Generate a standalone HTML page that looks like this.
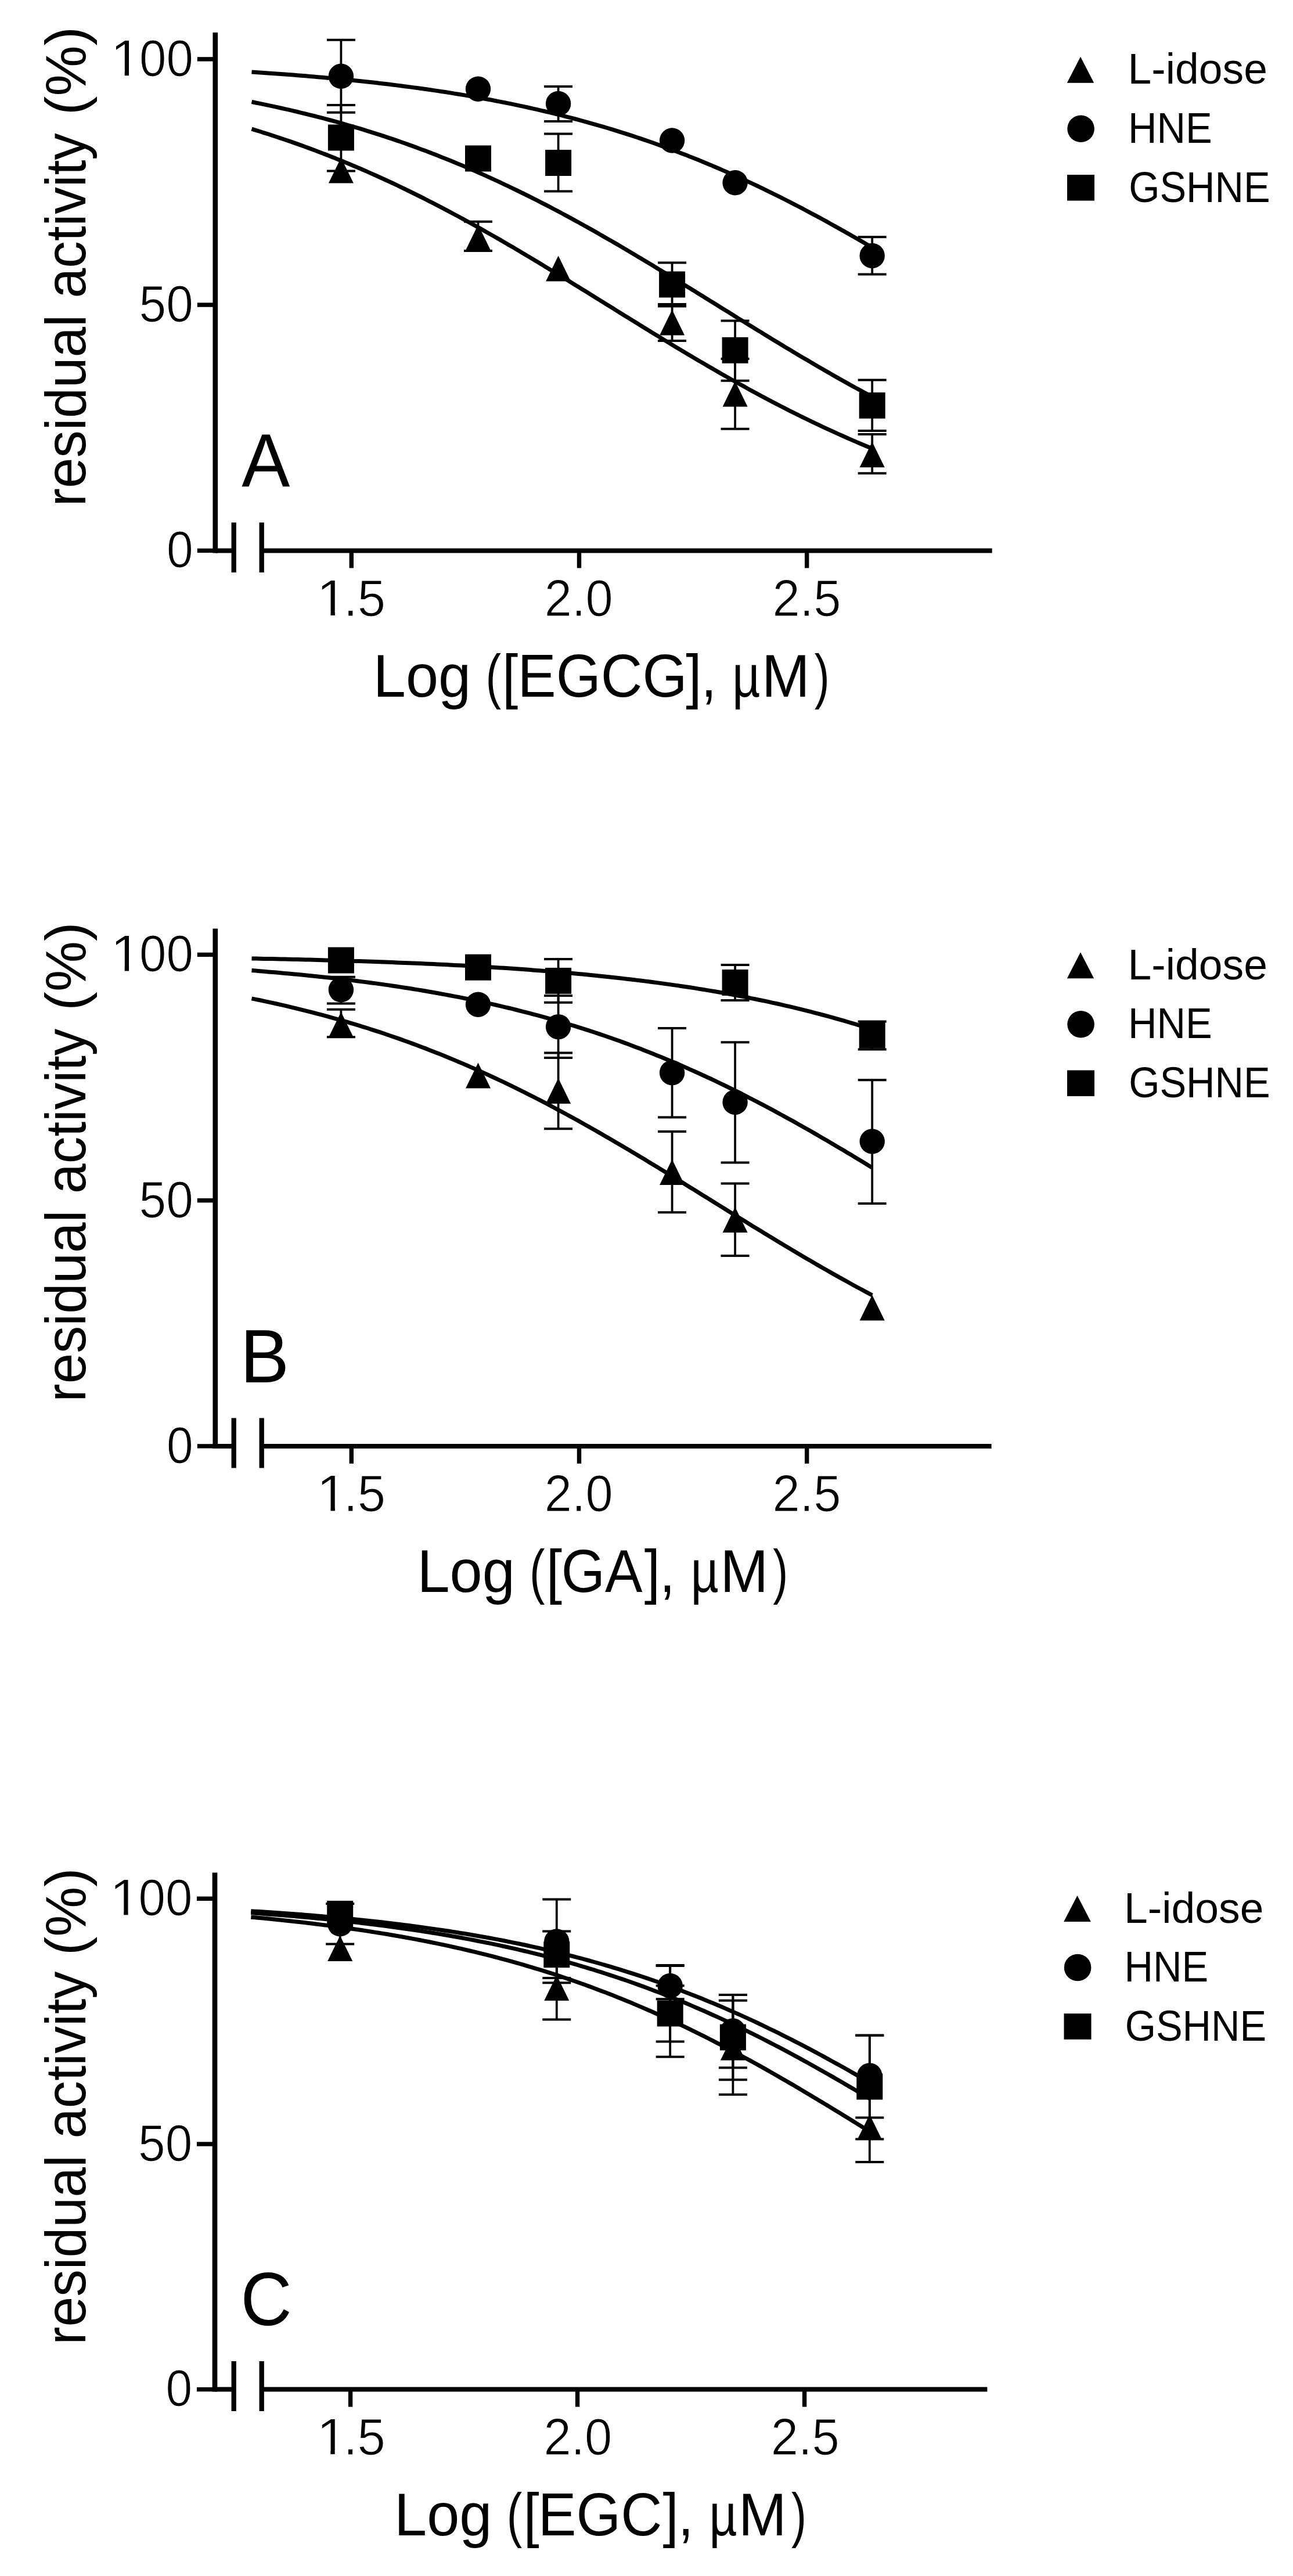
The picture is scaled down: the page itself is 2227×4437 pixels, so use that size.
<!DOCTYPE html>
<html lang="en">
<head>
<meta charset="utf-8">
<title>Residual activity vs inhibitor concentration</title>
<style>
html,body{margin:0;padding:0;background:#fff;}
body{width:2227px;height:4437px;overflow:hidden;}
svg{display:block;}
svg text{font-family:'Liberation Sans', Arial, Helvetica, sans-serif;fill:#000;font-kerning:none;}
.ax line,.eb line{stroke:#000;fill:none;}
.cv polyline{stroke:#000;stroke-width:7.0;fill:none;stroke-linejoin:round;}
.tl text{stroke:#fff;stroke-width:1.1px;}
.sy *,.lg circle,.lg rect,.lg polygon{fill:#000;}
</style>
</head>
<body>
<svg width="2227" height="4437" viewBox="0 0 2227 4437">
<rect width="2227" height="4437" fill="#fff"/>
<defs><clipPath id="one" clipPathUnits="userSpaceOnUse"><rect x="-5" y="-95" width="300" height="87.4"/><rect x="24.4" y="-8.2" width="7.4" height="7.7"/><rect x="48.9" y="-8.2" width="300" height="36.6"/></clipPath></defs>
<g>
<g class="ax">
<line x1="370.8" y1="56" x2="370.8" y2="952.4" stroke-width="8.7"/>
<line x1="339.8" y1="101.9" x2="370.8" y2="101.9" stroke-width="7.4"/>
<line x1="339.8" y1="525.1" x2="370.8" y2="525.1" stroke-width="7.4"/>
<line x1="339.8" y1="948.4" x2="370.8" y2="948.4" stroke-width="7.4"/>
<line x1="370.8" y1="948.4" x2="402.7" y2="948.4" stroke-width="8.0"/>
<line x1="450.7" y1="948.4" x2="1708.7" y2="948.4" stroke-width="8.0"/>
<line x1="402.7" y1="899.9" x2="402.7" y2="985.9" stroke-width="8.3"/>
<line x1="450.7" y1="899.9" x2="450.7" y2="985.9" stroke-width="8.3"/>
<line x1="605.3" y1="948.4" x2="605.3" y2="978.4" stroke-width="7.4"/>
<line x1="997.5" y1="948.4" x2="997.5" y2="978.4" stroke-width="7.4"/>
<line x1="1389.7" y1="948.4" x2="1389.7" y2="978.4" stroke-width="7.4"/>
</g>
<g class="tl">
<text transform="translate(190.3 130.7)" font-size="89" clip-path="url(#one)"><tspan x="0" textLength="53" lengthAdjust="spacingAndGlyphs">1</tspan><tspan x="49.7" textLength="92.8" lengthAdjust="spacingAndGlyphs">00</tspan></text>
<text y="553.9" font-size="89"><tspan x="239.6" textLength="93.2" lengthAdjust="spacingAndGlyphs">50</tspan></text>
<text y="977.2" font-size="89"><tspan x="287.1" textLength="45.7" lengthAdjust="spacingAndGlyphs">0</tspan></text>
<text transform="translate(545.1 1060.6)" font-size="89" clip-path="url(#one)"><tspan x="0" textLength="53" lengthAdjust="spacingAndGlyphs">1</tspan><tspan x="46.6" textLength="72.4" lengthAdjust="spacingAndGlyphs">.5</tspan></text>
<text y="1060.6" font-size="89"><tspan x="937.8" textLength="117.9" lengthAdjust="spacingAndGlyphs">2.0</tspan></text>
<text y="1060.6" font-size="89"><tspan x="1330.4" textLength="118" lengthAdjust="spacingAndGlyphs">2.5</tspan></text>
</g>
<text y="1199.6" font-size="103"><tspan x="642.8" textLength="168.4" lengthAdjust="spacingAndGlyphs">Log</tspan> <tspan x="836.4" textLength="26.5" lengthAdjust="spacingAndGlyphs">(</tspan><tspan x="865.1" textLength="27.3" lengthAdjust="spacingAndGlyphs">[</tspan><tspan x="891.5" textLength="292.1" lengthAdjust="spacingAndGlyphs">EGCG</tspan><tspan x="1181.2" textLength="27.3" lengthAdjust="spacingAndGlyphs">]</tspan><tspan x="1207.8" textLength="26.3" lengthAdjust="spacingAndGlyphs">,</tspan> <tspan x="1261.3" textLength="48.1" lengthAdjust="spacingAndGlyphs">µ</tspan><tspan x="1311.9" textLength="82.7" lengthAdjust="spacingAndGlyphs">M</tspan><tspan x="1402.8" textLength="26" lengthAdjust="spacingAndGlyphs">)</tspan></text>
<text transform="translate(147.4 0) rotate(-90)" font-size="98"><tspan x="-872.2" textLength="330.1" lengthAdjust="spacingAndGlyphs">residual</tspan> <tspan x="-513.6" textLength="284.4" lengthAdjust="spacingAndGlyphs">activity</tspan> <tspan x="-198.2" textLength="152.2" lengthAdjust="spacingAndGlyphs">(%)</tspan></text>
<text y="838" font-size="129"><tspan x="416.3" textLength="83.1" lengthAdjust="spacingAndGlyphs">A</tspan></text>
<g class="lg">
<polygon points="1861,97.8 1884.2,142.8 1837.8,142.8"/>
<circle cx="1861.6" cy="221.8" r="23.3"/>
<rect x="1838" y="301" width="47" height="44.6"/>
<text y="144.4" font-size="75"><tspan x="1942.6" textLength="240.3" lengthAdjust="spacingAndGlyphs">L-idose</tspan></text>
<text y="245.9" font-size="75"><tspan x="1943" textLength="144.7" lengthAdjust="spacingAndGlyphs">HNE</tspan></text>
<text y="347.5" font-size="75"><tspan x="1944.2" textLength="243.5" lengthAdjust="spacingAndGlyphs">GSHNE</tspan></text>
</g>
<g class="cv">
<polyline points="433.5,124.1 440.6,124.6 447.8,125.1 454.9,125.5 462,126 469.1,126.5 476.3,127 483.4,127.5 490.5,128.1 497.6,128.6 504.8,129.1 511.9,129.7 519,130.3 526.1,130.8 533.3,131.4 540.4,132 547.5,132.7 554.6,133.3 561.8,133.9 568.9,134.6 576,135.2 583.1,135.9 590.3,136.6 597.4,137.3 604.5,138 611.6,138.7 618.8,139.5 625.9,140.2 633,141 640.1,141.8 647.3,142.6 654.4,143.4 661.5,144.3 668.6,145.1 675.8,146 682.9,146.9 690,147.8 697.1,148.7 704.3,149.6 711.4,150.6 718.5,151.5 725.6,152.5 732.8,153.5 739.9,154.5 747,155.6 754.1,156.6 761.3,157.7 768.4,158.8 775.5,159.9 782.6,161.1 789.8,162.2 796.9,163.4 804,164.6 811.1,165.9 818.3,167.1 825.4,168.4 832.5,169.7 839.6,171 846.8,172.3 853.9,173.7 861,175.1 868.1,176.5 875.2,177.9 882.4,179.4 889.5,180.9 896.6,182.4 903.7,183.9 910.9,185.5 918,187.1 925.1,188.7 932.2,190.3 939.4,192 946.5,193.7 953.6,195.4 960.7,197.2 967.9,198.9 975,200.8 982.1,202.6 989.2,204.5 996.4,206.4 1003.5,208.3 1010.6,210.3 1017.7,212.3 1024.9,214.3 1032,216.3 1039.1,218.4 1046.2,220.5 1053.4,222.7 1060.5,224.9 1067.6,227.1 1074.7,229.3 1081.9,231.6 1089,233.9 1096.1,236.3 1103.2,238.6 1110.4,241.1 1117.5,243.5 1124.6,246 1131.7,248.5 1138.9,251.1 1146,253.7 1153.1,256.3 1160.2,258.9 1167.4,261.6 1174.5,264.4 1181.6,267.1 1188.7,269.9 1195.9,272.7 1203,275.6 1210.1,278.5 1217.2,281.5 1224.4,284.4 1231.5,287.5 1238.6,290.5 1245.7,293.6 1252.9,296.7 1260,299.9 1267.1,303 1274.2,306.3 1281.4,309.5 1288.5,312.8 1295.6,316.2 1302.7,319.5 1309.9,322.9 1317,326.3 1324.1,329.8 1331.2,333.3 1338.4,336.8 1345.5,340.4 1352.6,344 1359.7,347.6 1366.9,351.3 1374,355 1381.1,358.7 1388.2,362.5 1395.4,366.3 1402.5,370.1 1409.6,373.9 1416.7,377.8 1423.9,381.7 1431,385.7 1438.1,389.6 1445.2,393.6 1452.4,397.6 1459.5,401.6 1466.6,405.7 1473.7,409.8 1480.9,413.9 1488,418 1495.1,422.2 1502.2,426.4"/>
<polyline points="433.5,175.5 440.6,177 447.8,178.4 454.9,179.9 462,181.4 469.1,182.9 476.3,184.4 483.4,186 490.5,187.6 497.6,189.2 504.8,190.9 511.9,192.5 519,194.3 526.1,196 533.3,197.8 540.4,199.5 547.5,201.4 554.6,203.2 561.8,205.1 568.9,207 576,208.9 583.1,210.9 590.3,212.9 597.4,215 604.5,217 611.6,219.1 618.8,221.2 625.9,223.4 633,225.6 640.1,227.8 647.3,230.1 654.4,232.4 661.5,234.7 668.6,237.1 675.8,239.4 682.9,241.9 690,244.3 697.1,246.8 704.3,249.4 711.4,251.9 718.5,254.5 725.6,257.2 732.8,259.8 739.9,262.5 747,265.3 754.1,268 761.3,270.9 768.4,273.7 775.5,276.6 782.6,279.5 789.8,282.4 796.9,285.4 804,288.5 811.1,291.5 818.3,294.6 825.4,297.7 832.5,300.9 839.6,304.1 846.8,307.4 853.9,310.6 861,313.9 868.1,317.3 875.2,320.6 882.4,324.1 889.5,327.5 896.6,331 903.7,334.5 910.9,338 918,341.6 925.1,345.2 932.2,348.9 939.4,352.5 946.5,356.2 953.6,360 960.7,363.7 967.9,367.5 975,371.4 982.1,375.2 989.2,379.1 996.4,383 1003.5,387 1010.6,390.9 1017.7,394.9 1024.9,398.9 1032,403 1039.1,407.1 1046.2,411.2 1053.4,415.3 1060.5,419.4 1067.6,423.6 1074.7,427.7 1081.9,432 1089,436.2 1096.1,440.4 1103.2,444.7 1110.4,448.9 1117.5,453.2 1124.6,457.5 1131.7,461.9 1138.9,466.2 1146,470.5 1153.1,474.9 1160.2,479.3 1167.4,483.6 1174.5,488 1181.6,492.4 1188.7,496.8 1195.9,501.2 1203,505.7 1210.1,510.1 1217.2,514.5 1224.4,518.9 1231.5,523.3 1238.6,527.8 1245.7,532.2 1252.9,536.6 1260,541 1267.1,545.5 1274.2,549.9 1281.4,554.3 1288.5,558.7 1295.6,563.1 1302.7,567.5 1309.9,571.8 1317,576.2 1324.1,580.6 1331.2,584.9 1338.4,589.2 1345.5,593.6 1352.6,597.9 1359.7,602.1 1366.9,606.4 1374,610.7 1381.1,614.9 1388.2,619.1 1395.4,623.3 1402.5,627.5 1409.6,631.7 1416.7,635.8 1423.9,639.9 1431,644 1438.1,648.1 1445.2,652.1 1452.4,656.1 1459.5,660.1 1466.6,664.1 1473.7,668 1480.9,671.9 1488,675.8 1495.1,679.6 1502.2,683.5"/>
<polyline points="433.5,222.2 440.6,224.3 447.8,226.5 454.9,228.8 462,231 469.1,233.3 476.3,235.7 483.4,238.1 490.5,240.5 497.6,242.9 504.8,245.4 511.9,247.9 519,250.4 526.1,253 533.3,255.6 540.4,258.3 547.5,261 554.6,263.7 561.8,266.4 568.9,269.2 576,272 583.1,274.9 590.3,277.8 597.4,280.7 604.5,283.7 611.6,286.7 618.8,289.8 625.9,292.8 633,295.9 640.1,299.1 647.3,302.3 654.4,305.5 661.5,308.7 668.6,312 675.8,315.3 682.9,318.7 690,322.1 697.1,325.5 704.3,329 711.4,332.5 718.5,336 725.6,339.5 732.8,343.1 739.9,346.8 747,350.4 754.1,354.1 761.3,357.8 768.4,361.6 775.5,365.3 782.6,369.2 789.8,373 796.9,376.9 804,380.8 811.1,384.7 818.3,388.6 825.4,392.6 832.5,396.6 839.6,400.7 846.8,404.7 853.9,408.8 861,412.9 868.1,417 875.2,421.2 882.4,425.3 889.5,429.5 896.6,433.7 903.7,438 910.9,442.2 918,446.5 925.1,450.8 932.2,455.1 939.4,459.4 946.5,463.7 953.6,468 960.7,472.4 967.9,476.7 975,481.1 982.1,485.5 989.2,489.9 996.4,494.3 1003.5,498.7 1010.6,503.1 1017.7,507.5 1024.9,511.9 1032,516.4 1039.1,520.8 1046.2,525.2 1053.4,529.6 1060.5,534.1 1067.6,538.5 1074.7,542.9 1081.9,547.3 1089,551.7 1096.1,556.1 1103.2,560.5 1110.4,564.9 1117.5,569.3 1124.6,573.7 1131.7,578.1 1138.9,582.4 1146,586.7 1153.1,591.1 1160.2,595.4 1167.4,599.7 1174.5,604 1181.6,608.2 1188.7,612.5 1195.9,616.7 1203,620.9 1210.1,625.1 1217.2,629.3 1224.4,633.4 1231.5,637.5 1238.6,641.6 1245.7,645.7 1252.9,649.8 1260,653.8 1267.1,657.8 1274.2,661.8 1281.4,665.7 1288.5,669.7 1295.6,673.6 1302.7,677.4 1309.9,681.3 1317,685.1 1324.1,688.8 1331.2,692.6 1338.4,696.3 1345.5,700 1352.6,703.7 1359.7,707.3 1366.9,710.9 1374,714.4 1381.1,718 1388.2,721.4 1395.4,724.9 1402.5,728.3 1409.6,731.7 1416.7,735.1 1423.9,738.4 1431,741.7 1438.1,744.9 1445.2,748.1 1452.4,751.3 1459.5,754.5 1466.6,757.6 1473.7,760.6 1480.9,763.7 1488,766.7 1495.1,769.7 1502.2,772.6"/>
</g>
<g class="eb">
<line x1="823.5" y1="381.8" x2="823.5" y2="432" stroke-width="3.8"/>
<line x1="799" y1="381.8" x2="848" y2="381.8" stroke-width="4.0"/>
<line x1="799" y1="432" x2="848" y2="432" stroke-width="4.0"/>
<line x1="1157.6" y1="524" x2="1157.6" y2="587" stroke-width="3.8"/>
<line x1="1133.1" y1="524" x2="1182.1" y2="524" stroke-width="4.0"/>
<line x1="1133.1" y1="587" x2="1182.1" y2="587" stroke-width="4.0"/>
<line x1="1266.1" y1="618" x2="1266.1" y2="738.8" stroke-width="3.8"/>
<line x1="1241.6" y1="618" x2="1290.6" y2="618" stroke-width="4.0"/>
<line x1="1241.6" y1="738.8" x2="1290.6" y2="738.8" stroke-width="4.0"/>
<line x1="1502.2" y1="748" x2="1502.2" y2="815.2" stroke-width="3.8"/>
<line x1="1477.7" y1="748" x2="1526.7" y2="748" stroke-width="4.0"/>
<line x1="1477.7" y1="815.2" x2="1526.7" y2="815.2" stroke-width="4.0"/>
<line x1="587.4" y1="68.8" x2="587.4" y2="193.8" stroke-width="3.8"/>
<line x1="562.9" y1="68.8" x2="611.9" y2="68.8" stroke-width="4.0"/>
<line x1="562.9" y1="193.8" x2="611.9" y2="193.8" stroke-width="4.0"/>
<line x1="961.6" y1="148.9" x2="961.6" y2="208.9" stroke-width="3.8"/>
<line x1="937.1" y1="148.9" x2="986.1" y2="148.9" stroke-width="4.0"/>
<line x1="937.1" y1="208.9" x2="986.1" y2="208.9" stroke-width="4.0"/>
<line x1="1502.2" y1="408.3" x2="1502.2" y2="472.6" stroke-width="3.8"/>
<line x1="1477.7" y1="408.3" x2="1526.7" y2="408.3" stroke-width="4.0"/>
<line x1="1477.7" y1="472.6" x2="1526.7" y2="472.6" stroke-width="4.0"/>
<line x1="587.4" y1="181" x2="587.4" y2="294.5" stroke-width="3.8"/>
<line x1="562.9" y1="181" x2="611.9" y2="181" stroke-width="4.0"/>
<line x1="562.9" y1="294.5" x2="611.9" y2="294.5" stroke-width="4.0"/>
<line x1="961.6" y1="230.5" x2="961.6" y2="329.5" stroke-width="3.8"/>
<line x1="937.1" y1="230.5" x2="986.1" y2="230.5" stroke-width="4.0"/>
<line x1="937.1" y1="329.5" x2="986.1" y2="329.5" stroke-width="4.0"/>
<line x1="1157.6" y1="452.5" x2="1157.6" y2="527.5" stroke-width="3.8"/>
<line x1="1133.1" y1="452.5" x2="1182.1" y2="452.5" stroke-width="4.0"/>
<line x1="1133.1" y1="527.5" x2="1182.1" y2="527.5" stroke-width="4.0"/>
<line x1="1266.1" y1="552.4" x2="1266.1" y2="655.7" stroke-width="3.8"/>
<line x1="1241.6" y1="552.4" x2="1290.6" y2="552.4" stroke-width="4.0"/>
<line x1="1241.6" y1="655.7" x2="1290.6" y2="655.7" stroke-width="4.0"/>
<line x1="1502.2" y1="654.4" x2="1502.2" y2="742" stroke-width="3.8"/>
<line x1="1477.7" y1="654.4" x2="1526.7" y2="654.4" stroke-width="4.0"/>
<line x1="1477.7" y1="742" x2="1526.7" y2="742" stroke-width="4.0"/>
</g>
<g class="sy">
<polygon points="587.4,271.5 608.9,315.5 565.9,315.5"/>
<polygon points="823.5,387 845,431 802,431"/>
<polygon points="961.6,440.6 983.1,484.6 940.1,484.6"/>
<polygon points="1157.6,533.5 1179.1,577.5 1136.1,577.5"/>
<polygon points="1266.1,656.5 1287.6,700.5 1244.6,700.5"/>
<polygon points="1502.2,761 1523.7,805 1480.7,805"/>
<circle cx="587.4" cy="131.3" r="21.7"/>
<circle cx="823.5" cy="153.2" r="21.7"/>
<circle cx="961.6" cy="178.5" r="21.7"/>
<circle cx="1157.6" cy="242" r="21.7"/>
<circle cx="1266.1" cy="314.7" r="21.7"/>
<circle cx="1502.2" cy="440.5" r="21.7"/>
<rect x="564.9" y="214.5" width="45" height="45"/>
<rect x="801" y="250.5" width="45" height="45"/>
<rect x="939.1" y="258" width="45" height="45"/>
<rect x="1135.1" y="467.5" width="45" height="45"/>
<rect x="1243.6" y="580.8" width="45" height="45"/>
<rect x="1479.7" y="675.9" width="45" height="45"/>
</g>
</g>
<g>
<g class="ax">
<line x1="370.8" y1="1599.5" x2="370.8" y2="2494.9" stroke-width="8.7"/>
<line x1="339.8" y1="1644.4" x2="370.8" y2="1644.4" stroke-width="7.4"/>
<line x1="339.8" y1="2067.7" x2="370.8" y2="2067.7" stroke-width="7.4"/>
<line x1="339.8" y1="2490.9" x2="370.8" y2="2490.9" stroke-width="7.4"/>
<line x1="370.8" y1="2490.9" x2="402.7" y2="2490.9" stroke-width="8.0"/>
<line x1="450.7" y1="2490.9" x2="1707.6" y2="2490.9" stroke-width="8.0"/>
<line x1="402.7" y1="2442.4" x2="402.7" y2="2528.4" stroke-width="8.3"/>
<line x1="450.7" y1="2442.4" x2="450.7" y2="2528.4" stroke-width="8.3"/>
<line x1="605.3" y1="2490.9" x2="605.3" y2="2520.9" stroke-width="7.4"/>
<line x1="997.5" y1="2490.9" x2="997.5" y2="2520.9" stroke-width="7.4"/>
<line x1="1389.7" y1="2490.9" x2="1389.7" y2="2520.9" stroke-width="7.4"/>
</g>
<g class="tl">
<text transform="translate(190.3 1673.2)" font-size="89" clip-path="url(#one)"><tspan x="0" textLength="53" lengthAdjust="spacingAndGlyphs">1</tspan><tspan x="49.7" textLength="92.8" lengthAdjust="spacingAndGlyphs">00</tspan></text>
<text y="2096.5" font-size="89"><tspan x="239.6" textLength="93.2" lengthAdjust="spacingAndGlyphs">50</tspan></text>
<text y="2519.7" font-size="89"><tspan x="287.1" textLength="45.7" lengthAdjust="spacingAndGlyphs">0</tspan></text>
<text transform="translate(545.1 2603.1)" font-size="89" clip-path="url(#one)"><tspan x="0" textLength="53" lengthAdjust="spacingAndGlyphs">1</tspan><tspan x="46.6" textLength="72.4" lengthAdjust="spacingAndGlyphs">.5</tspan></text>
<text y="2603.1" font-size="89"><tspan x="937.8" textLength="117.9" lengthAdjust="spacingAndGlyphs">2.0</tspan></text>
<text y="2603.1" font-size="89"><tspan x="1330.4" textLength="118" lengthAdjust="spacingAndGlyphs">2.5</tspan></text>
</g>
<text y="2742.1" font-size="103"><tspan x="718.4" textLength="168.4" lengthAdjust="spacingAndGlyphs">Log</tspan> <tspan x="912" textLength="26.5" lengthAdjust="spacingAndGlyphs">(</tspan><tspan x="940.7" textLength="27.3" lengthAdjust="spacingAndGlyphs">[</tspan><tspan x="966.8" textLength="139.6" lengthAdjust="spacingAndGlyphs">GA</tspan><tspan x="1109.7" textLength="27.3" lengthAdjust="spacingAndGlyphs">]</tspan><tspan x="1136.3" textLength="26.3" lengthAdjust="spacingAndGlyphs">,</tspan> <tspan x="1189.8" textLength="48.1" lengthAdjust="spacingAndGlyphs">µ</tspan><tspan x="1240.4" textLength="82.7" lengthAdjust="spacingAndGlyphs">M</tspan><tspan x="1331.3" textLength="26" lengthAdjust="spacingAndGlyphs">)</tspan></text>
<text transform="translate(147.4 0) rotate(-90)" font-size="98"><tspan x="-2414.7" textLength="330.1" lengthAdjust="spacingAndGlyphs">residual</tspan> <tspan x="-2056.1" textLength="284.4" lengthAdjust="spacingAndGlyphs">activity</tspan> <tspan x="-1740.7" textLength="152.2" lengthAdjust="spacingAndGlyphs">(%)</tspan></text>
<text y="2380.5" font-size="129"><tspan x="413.7" textLength="84.3" lengthAdjust="spacingAndGlyphs">B</tspan></text>
<g class="lg">
<polygon points="1861,1640.3 1884.2,1685.3 1837.8,1685.3"/>
<circle cx="1861.6" cy="1764.3" r="23.3"/>
<rect x="1838" y="1843.5" width="47" height="44.6"/>
<text y="1686.9" font-size="75"><tspan x="1942.6" textLength="240.3" lengthAdjust="spacingAndGlyphs">L-idose</tspan></text>
<text y="1788.4" font-size="75"><tspan x="1943" textLength="144.7" lengthAdjust="spacingAndGlyphs">HNE</tspan></text>
<text y="1890" font-size="75"><tspan x="1944.2" textLength="243.5" lengthAdjust="spacingAndGlyphs">GSHNE</tspan></text>
</g>
<g class="cv">
<polyline points="433.5,1650.9 440.6,1651.1 447.8,1651.2 454.9,1651.4 462,1651.5 469.1,1651.6 476.3,1651.8 483.4,1652 490.5,1652.1 497.6,1652.3 504.8,1652.4 511.9,1652.6 519,1652.8 526.1,1653 533.3,1653.1 540.4,1653.3 547.5,1653.5 554.6,1653.7 561.8,1653.9 568.9,1654.1 576,1654.3 583.1,1654.5 590.3,1654.7 597.4,1654.9 604.5,1655.1 611.6,1655.4 618.8,1655.6 625.9,1655.8 633,1656.1 640.1,1656.3 647.3,1656.6 654.4,1656.8 661.5,1657.1 668.6,1657.3 675.8,1657.6 682.9,1657.9 690,1658.2 697.1,1658.4 704.3,1658.7 711.4,1659 718.5,1659.3 725.6,1659.6 732.8,1660 739.9,1660.3 747,1660.6 754.1,1660.9 761.3,1661.3 768.4,1661.6 775.5,1662 782.6,1662.4 789.8,1662.7 796.9,1663.1 804,1663.5 811.1,1663.9 818.3,1664.3 825.4,1664.7 832.5,1665.1 839.6,1665.6 846.8,1666 853.9,1666.4 861,1666.9 868.1,1667.3 875.2,1667.8 882.4,1668.3 889.5,1668.8 896.6,1669.3 903.7,1669.8 910.9,1670.3 918,1670.9 925.1,1671.4 932.2,1671.9 939.4,1672.5 946.5,1673.1 953.6,1673.7 960.7,1674.3 967.9,1674.9 975,1675.5 982.1,1676.1 989.2,1676.8 996.4,1677.4 1003.5,1678.1 1010.6,1678.8 1017.7,1679.5 1024.9,1680.2 1032,1680.9 1039.1,1681.7 1046.2,1682.4 1053.4,1683.2 1060.5,1684 1067.6,1684.7 1074.7,1685.6 1081.9,1686.4 1089,1687.2 1096.1,1688.1 1103.2,1689 1110.4,1689.9 1117.5,1690.8 1124.6,1691.7 1131.7,1692.6 1138.9,1693.6 1146,1694.6 1153.1,1695.6 1160.2,1696.6 1167.4,1697.6 1174.5,1698.7 1181.6,1699.7 1188.7,1700.8 1195.9,1701.9 1203,1703.1 1210.1,1704.2 1217.2,1705.4 1224.4,1706.6 1231.5,1707.8 1238.6,1709 1245.7,1710.3 1252.9,1711.6 1260,1712.9 1267.1,1714.2 1274.2,1715.6 1281.4,1716.9 1288.5,1718.3 1295.6,1719.8 1302.7,1721.2 1309.9,1722.7 1317,1724.2 1324.1,1725.7 1331.2,1727.3 1338.4,1728.8 1345.5,1730.4 1352.6,1732.1 1359.7,1733.7 1366.9,1735.4 1374,1737.1 1381.1,1738.9 1388.2,1740.6 1395.4,1742.4 1402.5,1744.3 1409.6,1746.1 1416.7,1748 1423.9,1749.9 1431,1751.9 1438.1,1753.8 1445.2,1755.9 1452.4,1757.9 1459.5,1760 1466.6,1762.1 1473.7,1764.2 1480.9,1766.4 1488,1768.6 1495.1,1770.8 1502.2,1773.1"/>
<polyline points="433.5,1671.6 440.6,1672.1 447.8,1672.7 454.9,1673.3 462,1673.9 469.1,1674.5 476.3,1675.1 483.4,1675.7 490.5,1676.4 497.6,1677 504.8,1677.7 511.9,1678.3 519,1679 526.1,1679.7 533.3,1680.4 540.4,1681.2 547.5,1681.9 554.6,1682.7 561.8,1683.4 568.9,1684.2 576,1685 583.1,1685.9 590.3,1686.7 597.4,1687.5 604.5,1688.4 611.6,1689.3 618.8,1690.2 625.9,1691.1 633,1692 640.1,1693 647.3,1693.9 654.4,1694.9 661.5,1695.9 668.6,1696.9 675.8,1698 682.9,1699 690,1700.1 697.1,1701.2 704.3,1702.3 711.4,1703.5 718.5,1704.6 725.6,1705.8 732.8,1707 739.9,1708.2 747,1709.5 754.1,1710.8 761.3,1712.1 768.4,1713.4 775.5,1714.7 782.6,1716.1 789.8,1717.4 796.9,1718.9 804,1720.3 811.1,1721.7 818.3,1723.2 825.4,1724.7 832.5,1726.3 839.6,1727.8 846.8,1729.4 853.9,1731 861,1732.7 868.1,1734.3 875.2,1736 882.4,1737.7 889.5,1739.5 896.6,1741.3 903.7,1743.1 910.9,1744.9 918,1746.8 925.1,1748.7 932.2,1750.6 939.4,1752.6 946.5,1754.6 953.6,1756.6 960.7,1758.6 967.9,1760.7 975,1762.8 982.1,1765 989.2,1767.2 996.4,1769.4 1003.5,1771.6 1010.6,1773.9 1017.7,1776.2 1024.9,1778.5 1032,1780.9 1039.1,1783.3 1046.2,1785.8 1053.4,1788.3 1060.5,1790.8 1067.6,1793.3 1074.7,1795.9 1081.9,1798.5 1089,1801.2 1096.1,1803.9 1103.2,1806.6 1110.4,1809.4 1117.5,1812.2 1124.6,1815 1131.7,1817.9 1138.9,1820.8 1146,1823.7 1153.1,1826.7 1160.2,1829.7 1167.4,1832.7 1174.5,1835.8 1181.6,1838.9 1188.7,1842.1 1195.9,1845.3 1203,1848.5 1210.1,1851.7 1217.2,1855 1224.4,1858.3 1231.5,1861.7 1238.6,1865.1 1245.7,1868.5 1252.9,1872 1260,1875.5 1267.1,1879 1274.2,1882.6 1281.4,1886.2 1288.5,1889.8 1295.6,1893.5 1302.7,1897.2 1309.9,1900.9 1317,1904.6 1324.1,1908.4 1331.2,1912.2 1338.4,1916.1 1345.5,1920 1352.6,1923.9 1359.7,1927.8 1366.9,1931.7 1374,1935.7 1381.1,1939.7 1388.2,1943.8 1395.4,1947.8 1402.5,1951.9 1409.6,1956 1416.7,1960.2 1423.9,1964.3 1431,1968.5 1438.1,1972.7 1445.2,1976.9 1452.4,1981.1 1459.5,1985.4 1466.6,1989.6 1473.7,1993.9 1480.9,1998.2 1488,2002.5 1495.1,2006.9 1502.2,2011.2"/>
<polyline points="433.5,1719.9 440.6,1721.4 447.8,1722.8 454.9,1724.3 462,1725.9 469.1,1727.4 476.3,1729 483.4,1730.6 490.5,1732.2 497.6,1733.9 504.8,1735.6 511.9,1737.3 519,1739.1 526.1,1740.8 533.3,1742.6 540.4,1744.5 547.5,1746.3 554.6,1748.2 561.8,1750.1 568.9,1752.1 576,1754.1 583.1,1756.1 590.3,1758.1 597.4,1760.2 604.5,1762.3 611.6,1764.4 618.8,1766.6 625.9,1768.8 633,1771 640.1,1773.3 647.3,1775.6 654.4,1777.9 661.5,1780.3 668.6,1782.7 675.8,1785.2 682.9,1787.6 690,1790.1 697.1,1792.7 704.3,1795.3 711.4,1797.9 718.5,1800.5 725.6,1803.2 732.8,1805.9 739.9,1808.7 747,1811.4 754.1,1814.3 761.3,1817.1 768.4,1820 775.5,1822.9 782.6,1825.9 789.8,1828.9 796.9,1831.9 804,1835 811.1,1838.1 818.3,1841.3 825.4,1844.4 832.5,1847.6 839.6,1850.9 846.8,1854.2 853.9,1857.5 861,1860.8 868.1,1864.2 875.2,1867.7 882.4,1871.1 889.5,1874.6 896.6,1878.1 903.7,1881.7 910.9,1885.3 918,1888.9 925.1,1892.5 932.2,1896.2 939.4,1899.9 946.5,1903.7 953.6,1907.5 960.7,1911.3 967.9,1915.1 975,1919 982.1,1922.9 989.2,1926.8 996.4,1930.7 1003.5,1934.7 1010.6,1938.7 1017.7,1942.7 1024.9,1946.8 1032,1950.9 1039.1,1955 1046.2,1959.1 1053.4,1963.2 1060.5,1967.4 1067.6,1971.6 1074.7,1975.8 1081.9,1980 1089,1984.3 1096.1,1988.5 1103.2,1992.8 1110.4,1997.1 1117.5,2001.4 1124.6,2005.8 1131.7,2010.1 1138.9,2014.4 1146,2018.8 1153.1,2023.2 1160.2,2027.6 1167.4,2031.9 1174.5,2036.3 1181.6,2040.7 1188.7,2045.2 1195.9,2049.6 1203,2054 1210.1,2058.4 1217.2,2062.8 1224.4,2067.3 1231.5,2071.7 1238.6,2076.1 1245.7,2080.5 1252.9,2085 1260,2089.4 1267.1,2093.8 1274.2,2098.2 1281.4,2102.6 1288.5,2107 1295.6,2111.4 1302.7,2115.7 1309.9,2120.1 1317,2124.5 1324.1,2128.8 1331.2,2133.1 1338.4,2137.4 1345.5,2141.7 1352.6,2146 1359.7,2150.3 1366.9,2154.5 1374,2158.8 1381.1,2163 1388.2,2167.2 1395.4,2171.3 1402.5,2175.5 1409.6,2179.6 1416.7,2183.7 1423.9,2187.8 1431,2191.9 1438.1,2195.9 1445.2,2199.9 1452.4,2203.9 1459.5,2207.8 1466.6,2211.8 1473.7,2215.7 1480.9,2219.5 1488,2223.4 1495.1,2227.2 1502.2,2231"/>
</g>
<g class="eb">
<line x1="587.4" y1="1738.8" x2="587.4" y2="1786.3" stroke-width="3.8"/>
<line x1="562.9" y1="1738.8" x2="611.9" y2="1738.8" stroke-width="4.0"/>
<line x1="562.9" y1="1786.3" x2="611.9" y2="1786.3" stroke-width="4.0"/>
<line x1="961.6" y1="1813.5" x2="961.6" y2="1944.3" stroke-width="3.8"/>
<line x1="937.1" y1="1813.5" x2="986.1" y2="1813.5" stroke-width="4.0"/>
<line x1="937.1" y1="1944.3" x2="986.1" y2="1944.3" stroke-width="4.0"/>
<line x1="1157.6" y1="1949.1" x2="1157.6" y2="2088.3" stroke-width="3.8"/>
<line x1="1133.1" y1="1949.1" x2="1182.1" y2="1949.1" stroke-width="4.0"/>
<line x1="1133.1" y1="2088.3" x2="1182.1" y2="2088.3" stroke-width="4.0"/>
<line x1="1266.1" y1="2038.4" x2="1266.1" y2="2163" stroke-width="3.8"/>
<line x1="1241.6" y1="2038.4" x2="1290.6" y2="2038.4" stroke-width="4.0"/>
<line x1="1241.6" y1="2163" x2="1290.6" y2="2163" stroke-width="4.0"/>
<line x1="587.4" y1="1682.8" x2="587.4" y2="1728.6" stroke-width="3.8"/>
<line x1="562.9" y1="1682.8" x2="611.9" y2="1682.8" stroke-width="4.0"/>
<line x1="562.9" y1="1728.6" x2="611.9" y2="1728.6" stroke-width="4.0"/>
<line x1="961.6" y1="1715" x2="961.6" y2="1822.1" stroke-width="3.8"/>
<line x1="937.1" y1="1715" x2="986.1" y2="1715" stroke-width="4.0"/>
<line x1="937.1" y1="1822.1" x2="986.1" y2="1822.1" stroke-width="4.0"/>
<line x1="1157.6" y1="1770.9" x2="1157.6" y2="1924.6" stroke-width="3.8"/>
<line x1="1133.1" y1="1770.9" x2="1182.1" y2="1770.9" stroke-width="4.0"/>
<line x1="1133.1" y1="1924.6" x2="1182.1" y2="1924.6" stroke-width="4.0"/>
<line x1="1266.1" y1="1795.3" x2="1266.1" y2="2002.5" stroke-width="3.8"/>
<line x1="1241.6" y1="1795.3" x2="1290.6" y2="1795.3" stroke-width="4.0"/>
<line x1="1241.6" y1="2002.5" x2="1290.6" y2="2002.5" stroke-width="4.0"/>
<line x1="1502.2" y1="1860.2" x2="1502.2" y2="2072.9" stroke-width="3.8"/>
<line x1="1477.7" y1="1860.2" x2="1526.7" y2="1860.2" stroke-width="4.0"/>
<line x1="1477.7" y1="2072.9" x2="1526.7" y2="2072.9" stroke-width="4.0"/>
<line x1="961.6" y1="1652" x2="961.6" y2="1726.8" stroke-width="3.8"/>
<line x1="937.1" y1="1652" x2="986.1" y2="1652" stroke-width="4.0"/>
<line x1="937.1" y1="1726.8" x2="986.1" y2="1726.8" stroke-width="4.0"/>
<line x1="1266.1" y1="1661.9" x2="1266.1" y2="1723" stroke-width="3.8"/>
<line x1="1241.6" y1="1661.9" x2="1290.6" y2="1661.9" stroke-width="4.0"/>
<line x1="1241.6" y1="1723" x2="1290.6" y2="1723" stroke-width="4.0"/>
<line x1="1502.2" y1="1759.5" x2="1502.2" y2="1807.5" stroke-width="3.8"/>
<line x1="1477.7" y1="1759.5" x2="1526.7" y2="1759.5" stroke-width="4.0"/>
<line x1="1477.7" y1="1807.5" x2="1526.7" y2="1807.5" stroke-width="4.0"/>
</g>
<g class="sy">
<polygon points="587.4,1743 608.9,1787 565.9,1787"/>
<polygon points="823.5,1830.6 845,1874.6 802,1874.6"/>
<polygon points="961.6,1857 983.1,1901 940.1,1901"/>
<polygon points="1157.6,1997 1179.1,2041 1136.1,2041"/>
<polygon points="1266.1,2079 1287.6,2123 1244.6,2123"/>
<polygon points="1502.2,2230.4 1523.7,2274.4 1480.7,2274.4"/>
<circle cx="587.4" cy="1704.8" r="21.7"/>
<circle cx="823.5" cy="1730.2" r="21.7"/>
<circle cx="961.6" cy="1768.6" r="21.7"/>
<circle cx="1157.6" cy="1847.7" r="21.7"/>
<circle cx="1266.1" cy="1898.5" r="21.7"/>
<circle cx="1502.2" cy="1966" r="21.7"/>
<rect x="564.9" y="1631.5" width="45" height="45"/>
<rect x="801" y="1643.7" width="45" height="45"/>
<rect x="939.1" y="1666.9" width="45" height="45"/>
<rect x="1243.6" y="1669.9" width="45" height="45"/>
<rect x="1479.7" y="1760.8" width="45" height="45"/>
</g>
</g>
<g>
<g class="ax">
<line x1="370" y1="3225.6" x2="370" y2="4119.6" stroke-width="8.7"/>
<line x1="339" y1="3270.3" x2="370" y2="3270.3" stroke-width="7.4"/>
<line x1="339" y1="3693" x2="370" y2="3693" stroke-width="7.4"/>
<line x1="339" y1="4115.6" x2="370" y2="4115.6" stroke-width="7.4"/>
<line x1="370" y1="4115.6" x2="402.7" y2="4115.6" stroke-width="8.0"/>
<line x1="450.7" y1="4115.6" x2="1700.4" y2="4115.6" stroke-width="8.0"/>
<line x1="402.7" y1="4067.1" x2="402.7" y2="4153.1" stroke-width="8.3"/>
<line x1="450.7" y1="4067.1" x2="450.7" y2="4153.1" stroke-width="8.3"/>
<line x1="603.6" y1="4115.6" x2="603.6" y2="4145.6" stroke-width="7.4"/>
<line x1="994.6" y1="4115.6" x2="994.6" y2="4145.6" stroke-width="7.4"/>
<line x1="1385.6" y1="4115.6" x2="1385.6" y2="4145.6" stroke-width="7.4"/>
</g>
<g class="tl">
<text transform="translate(188.8 3299.1)" font-size="89" clip-path="url(#one)"><tspan x="0" textLength="53" lengthAdjust="spacingAndGlyphs">1</tspan><tspan x="49.7" textLength="92.8" lengthAdjust="spacingAndGlyphs">00</tspan></text>
<text y="3721.8" font-size="89"><tspan x="238.1" textLength="93.2" lengthAdjust="spacingAndGlyphs">50</tspan></text>
<text y="4144.4" font-size="89"><tspan x="285.6" textLength="45.7" lengthAdjust="spacingAndGlyphs">0</tspan></text>
<text transform="translate(544.9 4227.8)" font-size="89" clip-path="url(#one)"><tspan x="0" textLength="53" lengthAdjust="spacingAndGlyphs">1</tspan><tspan x="46.6" textLength="72.4" lengthAdjust="spacingAndGlyphs">.5</tspan></text>
<text y="4227.8" font-size="89"><tspan x="936.4" textLength="117.9" lengthAdjust="spacingAndGlyphs">2.0</tspan></text>
<text y="4227.8" font-size="89"><tspan x="1327.8" textLength="118" lengthAdjust="spacingAndGlyphs">2.5</tspan></text>
</g>
<text y="4366.8" font-size="103"><tspan x="679.1" textLength="168.4" lengthAdjust="spacingAndGlyphs">Log</tspan> <tspan x="872.7" textLength="26.5" lengthAdjust="spacingAndGlyphs">(</tspan><tspan x="901.4" textLength="27.3" lengthAdjust="spacingAndGlyphs">[</tspan><tspan x="926.7" textLength="213.7" lengthAdjust="spacingAndGlyphs">EGC</tspan><tspan x="1141.4" textLength="27.3" lengthAdjust="spacingAndGlyphs">]</tspan><tspan x="1168" textLength="26.3" lengthAdjust="spacingAndGlyphs">,</tspan> <tspan x="1221.5" textLength="48.1" lengthAdjust="spacingAndGlyphs">µ</tspan><tspan x="1272.1" textLength="82.7" lengthAdjust="spacingAndGlyphs">M</tspan><tspan x="1363" textLength="26" lengthAdjust="spacingAndGlyphs">)</tspan></text>
<text transform="translate(147.4 0) rotate(-90)" font-size="98"><tspan x="-4038.7" textLength="326.5" lengthAdjust="spacingAndGlyphs">residual</tspan> <tspan x="-3683.6" textLength="287.9" lengthAdjust="spacingAndGlyphs">activity</tspan> <tspan x="-3368.1" textLength="150.5" lengthAdjust="spacingAndGlyphs">(%)</tspan></text>
<text y="4005.2" font-size="129"><tspan x="414.4" textLength="88.3" lengthAdjust="spacingAndGlyphs">C</tspan></text>
<g class="lg">
<polygon points="1855.5,3265 1878.8,3310 1832.2,3310"/>
<circle cx="1856.1" cy="3389" r="23.3"/>
<rect x="1832.5" y="3468.2" width="47" height="44.6"/>
<text y="3311.6" font-size="75"><tspan x="1936.1" textLength="240.3" lengthAdjust="spacingAndGlyphs">L-idose</tspan></text>
<text y="3413.1" font-size="75"><tspan x="1936.5" textLength="144.7" lengthAdjust="spacingAndGlyphs">HNE</tspan></text>
<text y="3514.7" font-size="75"><tspan x="1937.7" textLength="243.5" lengthAdjust="spacingAndGlyphs">GSHNE</tspan></text>
</g>
<g class="cv">
<polyline points="432.3,3291.7 439.4,3292.2 446.5,3292.6 453.7,3293.1 460.8,3293.5 467.9,3294 475,3294.5 482.1,3295 489.2,3295.5 496.3,3296 503.4,3296.6 510.5,3297.1 517.6,3297.6 524.7,3298.2 531.8,3298.8 538.9,3299.3 546,3299.9 553.1,3300.5 560.2,3301.2 567.3,3301.8 574.4,3302.4 581.5,3303.1 588.6,3303.7 595.7,3304.4 602.8,3305.1 609.9,3305.8 617,3306.5 624.1,3307.3 631.2,3308 638.3,3308.8 645.4,3309.6 652.5,3310.3 659.6,3311.1 666.7,3312 673.8,3312.8 680.9,3313.7 688,3314.5 695.2,3315.4 702.3,3316.3 709.4,3317.2 716.5,3318.2 723.6,3319.1 730.7,3320.1 737.8,3321.1 744.9,3322.1 752,3323.1 759.1,3324.2 766.2,3325.2 773.3,3326.3 780.4,3327.4 787.5,3328.5 794.6,3329.7 801.7,3330.8 808.8,3332 815.9,3333.2 823,3334.5 830.1,3335.7 837.2,3337 844.3,3338.3 851.4,3339.6 858.5,3340.9 865.6,3342.3 872.7,3343.7 879.8,3345.1 886.9,3346.6 894,3348 901.1,3349.5 908.2,3351 915.3,3352.6 922.4,3354.1 929.5,3355.7 936.6,3357.3 943.8,3359 950.9,3360.7 958,3362.4 965.1,3364.1 972.2,3365.8 979.3,3367.6 986.4,3369.5 993.5,3371.3 1000.6,3373.2 1007.7,3375.1 1014.8,3377 1021.9,3379 1029,3381 1036.1,3383 1043.2,3385.1 1050.3,3387.1 1057.4,3389.3 1064.5,3391.4 1071.6,3393.6 1078.7,3395.8 1085.8,3398.1 1092.9,3400.4 1100,3402.7 1107.1,3405 1114.2,3407.4 1121.3,3409.8 1128.4,3412.3 1135.5,3414.8 1142.6,3417.3 1149.7,3419.9 1156.8,3422.5 1163.9,3425.1 1171,3427.7 1178.1,3430.4 1185.3,3433.2 1192.4,3435.9 1199.5,3438.7 1206.6,3441.6 1213.7,3444.5 1220.8,3447.4 1227.9,3450.3 1235,3453.3 1242.1,3456.3 1249.2,3459.4 1256.3,3462.5 1263.4,3465.6 1270.5,3468.7 1277.6,3471.9 1284.7,3475.2 1291.8,3478.4 1298.9,3481.7 1306,3485 1313.1,3488.4 1320.2,3491.8 1327.3,3495.3 1334.4,3498.7 1341.5,3502.2 1348.6,3505.8 1355.7,3509.3 1362.8,3512.9 1369.9,3516.6 1377,3520.2 1384.1,3523.9 1391.2,3527.7 1398.3,3531.4 1405.4,3535.2 1412.5,3539 1419.6,3542.9 1426.8,3546.8 1433.9,3550.7 1441,3554.6 1448.1,3558.5 1455.2,3562.5 1462.3,3566.5 1469.4,3570.6 1476.5,3574.6 1483.6,3578.7 1490.7,3582.8 1497.8,3587"/>
<polyline points="432.3,3294.8 439.4,3295.3 446.5,3295.8 453.7,3296.3 460.8,3296.9 467.9,3297.4 475,3298 482.1,3298.5 489.2,3299.1 496.3,3299.7 503.4,3300.3 510.5,3300.9 517.6,3301.5 524.7,3302.2 531.8,3302.8 538.9,3303.5 546,3304.2 553.1,3304.8 560.2,3305.5 567.3,3306.3 574.4,3307 581.5,3307.7 588.6,3308.5 595.7,3309.2 602.8,3310 609.9,3310.8 617,3311.6 624.1,3312.5 631.2,3313.3 638.3,3314.2 645.4,3315.1 652.5,3316 659.6,3316.9 666.7,3317.8 673.8,3318.7 680.9,3319.7 688,3320.7 695.2,3321.7 702.3,3322.7 709.4,3323.7 716.5,3324.8 723.6,3325.9 730.7,3327 737.8,3328.1 744.9,3329.2 752,3330.4 759.1,3331.6 766.2,3332.8 773.3,3334 780.4,3335.2 787.5,3336.5 794.6,3337.8 801.7,3339.1 808.8,3340.4 815.9,3341.8 823,3343.2 830.1,3344.6 837.2,3346 844.3,3347.4 851.4,3348.9 858.5,3350.4 865.6,3352 872.7,3353.5 879.8,3355.1 886.9,3356.7 894,3358.3 901.1,3360 908.2,3361.7 915.3,3363.4 922.4,3365.2 929.5,3366.9 936.6,3368.7 943.8,3370.6 950.9,3372.4 958,3374.3 965.1,3376.2 972.2,3378.2 979.3,3380.2 986.4,3382.2 993.5,3384.2 1000.6,3386.3 1007.7,3388.4 1014.8,3390.6 1021.9,3392.7 1029,3395 1036.1,3397.2 1043.2,3399.5 1050.3,3401.8 1057.4,3404.1 1064.5,3406.5 1071.6,3408.9 1078.7,3411.3 1085.8,3413.8 1092.9,3416.3 1100,3418.9 1107.1,3421.4 1114.2,3424 1121.3,3426.7 1128.4,3429.4 1135.5,3432.1 1142.6,3434.8 1149.7,3437.6 1156.8,3440.5 1163.9,3443.3 1171,3446.2 1178.1,3449.1 1185.3,3452.1 1192.4,3455.1 1199.5,3458.2 1206.6,3461.2 1213.7,3464.3 1220.8,3467.5 1227.9,3470.7 1235,3473.9 1242.1,3477.1 1249.2,3480.4 1256.3,3483.7 1263.4,3487.1 1270.5,3490.5 1277.6,3493.9 1284.7,3497.4 1291.8,3500.8 1298.9,3504.4 1306,3507.9 1313.1,3511.5 1320.2,3515.1 1327.3,3518.8 1334.4,3522.5 1341.5,3526.2 1348.6,3529.9 1355.7,3533.7 1362.8,3537.5 1369.9,3541.4 1377,3545.2 1384.1,3549.1 1391.2,3553 1398.3,3557 1405.4,3561 1412.5,3565 1419.6,3569 1426.8,3573 1433.9,3577.1 1441,3581.2 1448.1,3585.3 1455.2,3589.5 1462.3,3593.6 1469.4,3597.8 1476.5,3602 1483.6,3606.3 1490.7,3610.5 1497.8,3614.8"/>
<polyline points="432.3,3302.2 439.4,3302.8 446.5,3303.5 453.7,3304.1 460.8,3304.8 467.9,3305.5 475,3306.2 482.1,3307 489.2,3307.7 496.3,3308.5 503.4,3309.2 510.5,3310 517.6,3310.8 524.7,3311.6 531.8,3312.5 538.9,3313.3 546,3314.2 553.1,3315.1 560.2,3315.9 567.3,3316.9 574.4,3317.8 581.5,3318.7 588.6,3319.7 595.7,3320.7 602.8,3321.7 609.9,3322.7 617,3323.7 624.1,3324.8 631.2,3325.9 638.3,3327 645.4,3328.1 652.5,3329.2 659.6,3330.4 666.7,3331.5 673.8,3332.7 680.9,3334 688,3335.2 695.2,3336.5 702.3,3337.8 709.4,3339.1 716.5,3340.4 723.6,3341.8 730.7,3343.1 737.8,3344.5 744.9,3346 752,3347.4 759.1,3348.9 766.2,3350.4 773.3,3351.9 780.4,3353.5 787.5,3355.1 794.6,3356.7 801.7,3358.3 808.8,3360 815.9,3361.7 823,3363.4 830.1,3365.1 837.2,3366.9 844.3,3368.7 851.4,3370.5 858.5,3372.4 865.6,3374.3 872.7,3376.2 879.8,3378.2 886.9,3380.2 894,3382.2 901.1,3384.2 908.2,3386.3 915.3,3388.4 922.4,3390.6 929.5,3392.7 936.6,3394.9 943.8,3397.2 950.9,3399.4 958,3401.7 965.1,3404.1 972.2,3406.5 979.3,3408.9 986.4,3411.3 993.5,3413.8 1000.6,3416.3 1007.7,3418.8 1014.8,3421.4 1021.9,3424 1029,3426.7 1036.1,3429.4 1043.2,3432.1 1050.3,3434.8 1057.4,3437.6 1064.5,3440.4 1071.6,3443.3 1078.7,3446.2 1085.8,3449.1 1092.9,3452.1 1100,3455.1 1107.1,3458.1 1114.2,3461.2 1121.3,3464.3 1128.4,3467.5 1135.5,3470.6 1142.6,3473.8 1149.7,3477.1 1156.8,3480.4 1163.9,3483.7 1171,3487.1 1178.1,3490.4 1185.3,3493.9 1192.4,3497.3 1199.5,3500.8 1206.6,3504.3 1213.7,3507.9 1220.8,3511.5 1227.9,3515.1 1235,3518.8 1242.1,3522.4 1249.2,3526.2 1256.3,3529.9 1263.4,3533.7 1270.5,3537.5 1277.6,3541.3 1284.7,3545.2 1291.8,3549.1 1298.9,3553 1306,3556.9 1313.1,3560.9 1320.2,3564.9 1327.3,3569 1334.4,3573 1341.5,3577.1 1348.6,3581.2 1355.7,3585.3 1362.8,3589.4 1369.9,3593.6 1377,3597.8 1384.1,3602 1391.2,3606.2 1398.3,3610.5 1405.4,3614.7 1412.5,3619 1419.6,3623.3 1426.8,3627.6 1433.9,3631.9 1441,3636.3 1448.1,3640.6 1455.2,3645 1462.3,3649.3 1469.4,3653.7 1476.5,3658.1 1483.6,3662.5 1490.7,3666.9 1497.8,3671.3"/>
</g>
<g class="eb">
<line x1="958.8" y1="3369.6" x2="958.8" y2="3478.4" stroke-width="3.8"/>
<line x1="934.3" y1="3369.6" x2="983.3" y2="3369.6" stroke-width="4.0"/>
<line x1="934.3" y1="3478.4" x2="983.3" y2="3478.4" stroke-width="4.0"/>
<line x1="1154.2" y1="3386" x2="1154.2" y2="3542.8" stroke-width="3.8"/>
<line x1="1129.7" y1="3386" x2="1178.7" y2="3386" stroke-width="4.0"/>
<line x1="1129.7" y1="3542.8" x2="1178.7" y2="3542.8" stroke-width="4.0"/>
<line x1="1262.4" y1="3445.8" x2="1262.4" y2="3607.8" stroke-width="3.8"/>
<line x1="1237.9" y1="3445.8" x2="1286.9" y2="3445.8" stroke-width="4.0"/>
<line x1="1237.9" y1="3607.8" x2="1286.9" y2="3607.8" stroke-width="4.0"/>
<line x1="1497.8" y1="3664" x2="1497.8" y2="3724" stroke-width="3.8"/>
<line x1="1473.3" y1="3724" x2="1522.3" y2="3724" stroke-width="4.0"/>
<line x1="585.7" y1="3279" x2="585.7" y2="3348.6" stroke-width="3.8"/>
<line x1="561.2" y1="3279" x2="610.2" y2="3279" stroke-width="4.0"/>
<line x1="561.2" y1="3348.6" x2="610.2" y2="3348.6" stroke-width="4.0"/>
<line x1="958.8" y1="3271.5" x2="958.8" y2="3415.2" stroke-width="3.8"/>
<line x1="934.3" y1="3271.5" x2="983.3" y2="3271.5" stroke-width="4.0"/>
<line x1="934.3" y1="3415.2" x2="983.3" y2="3415.2" stroke-width="4.0"/>
<line x1="1154.2" y1="3385.1" x2="1154.2" y2="3443.3" stroke-width="3.8"/>
<line x1="1129.7" y1="3385.1" x2="1178.7" y2="3385.1" stroke-width="4.0"/>
<line x1="1129.7" y1="3443.3" x2="1178.7" y2="3443.3" stroke-width="4.0"/>
<line x1="1262.4" y1="3435.9" x2="1262.4" y2="3561.4" stroke-width="3.8"/>
<line x1="1237.9" y1="3435.9" x2="1286.9" y2="3435.9" stroke-width="4.0"/>
<line x1="1237.9" y1="3561.4" x2="1286.9" y2="3561.4" stroke-width="4.0"/>
<line x1="1497.8" y1="3505.8" x2="1497.8" y2="3647.4" stroke-width="3.8"/>
<line x1="1473.3" y1="3505.8" x2="1522.3" y2="3505.8" stroke-width="4.0"/>
<line x1="1473.3" y1="3647.4" x2="1522.3" y2="3647.4" stroke-width="4.0"/>
<line x1="958.8" y1="3326.5" x2="958.8" y2="3406.9" stroke-width="3.8"/>
<line x1="934.3" y1="3326.5" x2="983.3" y2="3326.5" stroke-width="4.0"/>
<line x1="934.3" y1="3406.9" x2="983.3" y2="3406.9" stroke-width="4.0"/>
<line x1="1154.2" y1="3420.2" x2="1154.2" y2="3516.6" stroke-width="3.8"/>
<line x1="1129.7" y1="3420.2" x2="1178.7" y2="3420.2" stroke-width="4.0"/>
<line x1="1129.7" y1="3516.6" x2="1178.7" y2="3516.6" stroke-width="4.0"/>
<line x1="1262.4" y1="3435.9" x2="1262.4" y2="3582.3" stroke-width="3.8"/>
<line x1="1237.9" y1="3435.9" x2="1286.9" y2="3435.9" stroke-width="4.0"/>
<line x1="1237.9" y1="3582.3" x2="1286.9" y2="3582.3" stroke-width="4.0"/>
<line x1="1497.8" y1="3505.8" x2="1497.8" y2="3684.5" stroke-width="3.8"/>
<line x1="1473.3" y1="3505.8" x2="1522.3" y2="3505.8" stroke-width="4.0"/>
<line x1="1473.3" y1="3684.5" x2="1522.3" y2="3684.5" stroke-width="4.0"/>
</g>
<g class="sy">
<polygon points="585.7,3334 607.2,3378 564.2,3378"/>
<polygon points="958.8,3402 980.3,3446 937.3,3446"/>
<polygon points="1154.2,3445 1175.7,3489 1132.7,3489"/>
<polygon points="1262.4,3504.8 1283.9,3548.8 1240.9,3548.8"/>
<polygon points="1497.8,3642 1519.3,3686 1476.3,3686"/>
<circle cx="585.7" cy="3313.8" r="21.7"/>
<circle cx="958.8" cy="3344" r="21.7"/>
<circle cx="1154.2" cy="3420.5" r="21.7"/>
<circle cx="1262.4" cy="3498" r="21.7"/>
<circle cx="1497.8" cy="3575" r="21.7"/>
<rect x="563.2" y="3273.9" width="45" height="45"/>
<rect x="936.3" y="3344.2" width="45" height="45"/>
<rect x="1131.7" y="3445.5" width="45" height="45"/>
<rect x="1239.9" y="3486.6" width="45" height="45"/>
<rect x="1475.3" y="3571.5" width="45" height="45"/>
</g>
</g>
</svg>
</body>
</html>
